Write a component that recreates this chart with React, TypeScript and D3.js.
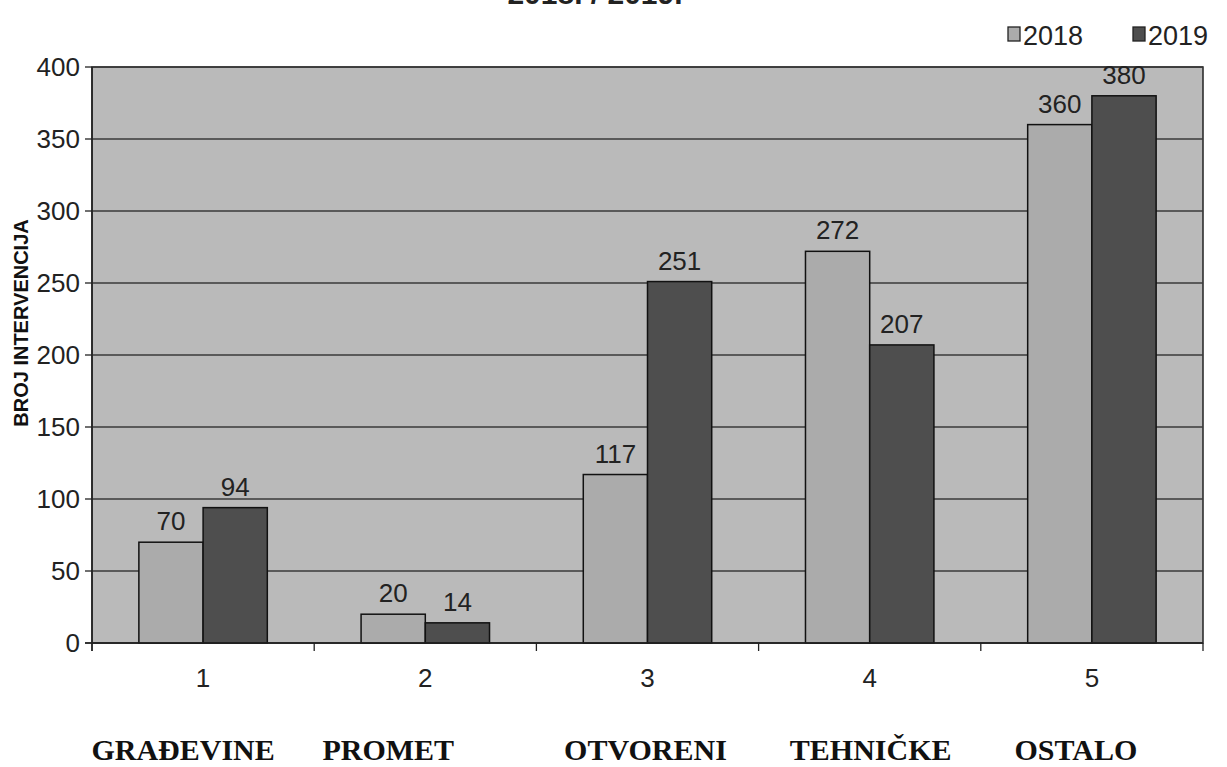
import React from "react";
import * as d3 from "d3";

const categories = ["1", "2", "3", "4", "5"];
const categoryNames = ["GRAĐEVINE", "PROMET", "OTVORENI", "TEHNIČKE", "OSTALO"];
const seriesNames = ["2018", "2019"];
const values2018 = [70, 20, 117, 272, 360];
const values2019 = [94, 14, 251, 207, 380];
const yTicks = [0, 50, 100, 150, 200, 250, 300, 350, 400];
const titleText = "2018. / 2019.";
const yAxisTitle = "BROJ INTERVENCIJA";

const W = 1227;
const H = 767;
const M = { left: 92, right: 1203, top: 67, bottom: 643 };
const nameOffsets = [-20, -37, -2, 1, -16];
const colors: Record<string, string> = { "2018": "#ababab", "2019": "#4e4e4e" };
const plotBg = "#bababa";
const sans = "'Liberation Sans', Arial, Helvetica, sans-serif";
const serif = "'Liberation Serif', 'Times New Roman', Times, serif";

export default function App() {
  const x0 = d3.scaleBand<string>().domain(categories).range([M.left, M.right]).padding(0);
  const x1 = d3
    .scaleBand<string>()
    .domain(seriesNames)
    .range([0, x0.bandwidth()])
    .paddingInner(0)
    .paddingOuter(0.73);
  const y = d3.scaleLinear().domain([0, 400]).range([M.bottom, M.top]);

  const series = [values2018, values2019];
  const boundaries = categories.map((c) => x0(c) as number).concat([M.right]);

  return (
    <div style={{ position: "absolute", left: 0, top: 0 }}>
      <svg width={W} height={H} style={{ display: "block", background: "#fff" }}>
        {/* title, mostly cut off at the top as in the reference */}
        <text x={595} y={4} textAnchor="middle" fontFamily={sans} fontWeight="bold" fontSize={30} fill="#222">
          {titleText}
        </text>

        {/* plot area */}
        <rect x={M.left} y={M.top} width={M.right - M.left} height={M.bottom - M.top} fill={plotBg} stroke="#222" strokeWidth={1.5} />

        {/* gridlines */}
        {yTicks.map((t) => (
          <line key={"g" + t} x1={M.left} x2={M.right} y1={y(t)} y2={y(t)} stroke="#3a3a3a" strokeWidth={1.3} />
        ))}

        {/* bars */}
        {categories.map((c, i) =>
          seriesNames.map((s, j) => {
            const v = series[j][i];
            const bx = (x0(c) as number) + (x1(s) as number);
            return (
              <rect
                key={c + s}
                x={bx}
                y={y(v)}
                width={x1.bandwidth()}
                height={y(0) - y(v)}
                fill={colors[s]}
                stroke="#111"
                strokeWidth={1.5}
              />
            );
          })
        )}

        {/* data labels */}
        {categories.map((c, i) =>
          seriesNames.map((s, j) => {
            const v = series[j][i];
            const bx = (x0(c) as number) + (x1(s) as number) + x1.bandwidth() / 2;
            return (
              <text key={"l" + c + s} x={bx} y={y(v) - 12} textAnchor="middle" fontFamily={sans} fontSize={26} fill="#222">
                {v}
              </text>
            );
          })
        )}

        {/* x axis */}
        <line x1={M.left - 7} x2={M.right} y1={M.bottom} y2={M.bottom} stroke="#222" strokeWidth={1.5} />
        {boundaries.map((b, i) => (
          <line key={"xt" + i} x1={b} x2={b} y1={M.bottom} y2={M.bottom + 8} stroke="#222" strokeWidth={1.3} />
        ))}
        {categories.map((c) => (
          <text key={"xl" + c} x={(x0(c) as number) + x0.bandwidth() / 2} y={687} textAnchor="middle" fontFamily={sans} fontSize={26} fill="#222">
            {c}
          </text>
        ))}
        {categories.map((c, i) => (
          <text
            key={"cn" + c}
            x={(x0(c) as number) + x0.bandwidth() / 2 + nameOffsets[i]}
            y={760}
            textAnchor="middle"
            fontFamily={serif}
            fontWeight="bold"
            fontSize={30}
            fill="#111"
          >
            {categoryNames[i]}
          </text>
        ))}

        {/* y axis */}
        <line x1={M.left} x2={M.left} y1={M.top} y2={M.bottom + 8} stroke="#222" strokeWidth={1.5} />
        {yTicks.map((t) => (
          <g key={"yt" + t}>
            <line x1={M.left - 7} x2={M.left} y1={y(t)} y2={y(t)} stroke="#222" strokeWidth={1.3} />
            <text x={80} y={y(t) + 9} textAnchor="end" fontFamily={sans} fontSize={26} fill="#222">
              {t}
            </text>
          </g>
        ))}
        <text
          transform={`translate(28, 323) rotate(-90)`}
          textAnchor="middle"
          fontFamily={sans}
          fontWeight="bold"
          fontSize={20}
          fill="#111"
        >
          {yAxisTitle}
        </text>

        {/* legend */}
        {seriesNames.map((s, j) => {
          const lx = 1008 + j * 125;
          return (
            <g key={"lg" + s}>
              <rect x={lx} y={27} width={12} height={14} fill={colors[s]} stroke="#222" strokeWidth={1.3} />
              <text x={lx + 15} y={45} fontFamily={sans} fontSize={27} fill="#222">
                {s}
              </text>
            </g>
          );
        })}
      </svg>
    </div>
  );
}
